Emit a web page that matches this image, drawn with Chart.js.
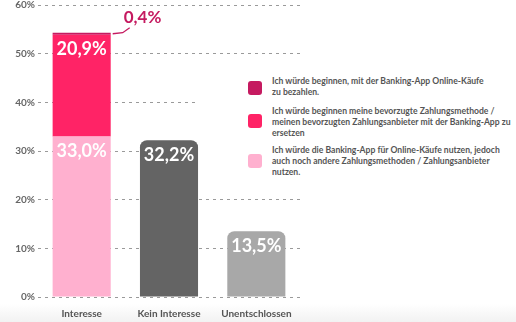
<!DOCTYPE html>
<html><head><meta charset="utf-8">
<script src="https://cdn.jsdelivr.net/npm/chart.js@4.4.1/dist/chart.umd.min.js"></script>
<style>
html,body{margin:0;padding:0;background:#fff;}
#wrap{position:relative;width:516px;height:322px;overflow:hidden;font-family:Lato,"Open Sans",sans-serif;}
#band{position:absolute;left:0;right:0;bottom:0;height:18px;background:linear-gradient(to bottom,#ffffff,#f2f2f2);}
canvas{position:absolute;left:0;top:0;}
#legend{position:absolute;left:199px;top:64px;width:317px;height:126px;background:#fff;}
.item{position:absolute;left:73px;font-size:8.6px;line-height:11px;font-weight:700;color:#555;white-space:nowrap;}
.sw{position:absolute;left:49px;width:14px;height:14px;border-radius:3px;}
</style></head>
<body>
<div id="wrap">
<div id="band"></div>
<canvas id="c" width="516" height="322"></canvas>
<div id="legend"></div>
</div>
<script>
const categories = ["Interesse", "Kein Interesse", "Unentschlossen"];
const tickValues = [0, 10, 20, 30, 40, 50, 60];
const seriesNames = [
  "Ich würde die Banking-App für Online-Käufe nutzen, jedoch\nauch noch andere Zahlungsmethoden / Zahlungsanbieter\nnutzen.",
  "Ich würde beginnen meine bevorzugte Zahlungsmethode /\nmeinen bevorzugten Zahlungsanbieter mit der Banking-App zu\nersetzen",
  "Ich würde beginnen, mit der Banking-App Online-Käufe\nzu bezahlen."
];
const interesseAndere = [33.0, null, null];
const interesseErsetzen = [20.9, null, null];
const interesseBezahlen = [0.4, null, null];
const keinUndUnentschlossen = [null, 32.2, 13.5];
const labelText = ["33,0%", "20,9%", "0,4%", "32,2%", "13,5%"];

const cLight = "#ffb0cf", cHot = "#ff2366", cDark = "#c51a60";
const cGrey1 = "#646464", cGrey2 = "#a8a8a8";

// legend
const legendEl = document.getElementById("legend");
const legendItems = [
  {name: seriesNames[2], color: cDark, top: 11.5, sw: 16.5},
  {name: seriesNames[1], color: cHot, top: 42, sw: 50},
  {name: seriesNames[0], color: cLight, top: 80.5, sw: 90}
];
legendItems.forEach(it => {
  const s = document.createElement("div");
  s.className = "sw"; s.style.top = it.sw + "px"; s.style.background = it.color;
  legendEl.appendChild(s);
  const t = document.createElement("div");
  t.className = "item"; t.style.top = it.top + "px";
  t.innerHTML = it.name.split("\n").join("<br>");
  legendEl.appendChild(t);
});

const labelsPlugin = {
  id: "valueLabels",
  afterDatasetsDraw(chart) {
    const ctx = chart.ctx;
    ctx.save();
    ctx.textAlign = "center";
    ctx.textBaseline = "middle";
    ctx.font = "700 18px Lato, 'Open Sans', sans-serif";
    ctx.fillStyle = "#ffffff";
    const m0 = chart.getDatasetMeta(0).data[0];
    const m1 = chart.getDatasetMeta(1).data[0];
    const m2 = chart.getDatasetMeta(2).data[0];
    const m3 = chart.getDatasetMeta(3).data;
    ctx.fillText(labelText[0], m0.x, m0.y + 15);
    ctx.fillText(labelText[1], m1.x, m1.y + 15);
    ctx.fillText(labelText[3], m3[1].x, m3[1].y + 15);
    ctx.fillText(labelText[4], m3[2].x, m3[2].y + 15);
    // 0,4% callout
    const right = m2.x + m2.width / 2;
    const topY = m2.y;
    ctx.strokeStyle = cDark;
    ctx.lineWidth = 1.3;
    ctx.beginPath();
    ctx.moveTo(right + 2, topY + 1);
    ctx.lineTo(right + 12, topY + 0);
    ctx.lineTo(right + 19, topY - 5);
    ctx.stroke();
    ctx.fillStyle = cDark;
    ctx.textAlign = "left";
    ctx.font = "700 17px Lato, 'Open Sans', sans-serif";
    ctx.fillText(labelText[2], right + 13, topY - 15);
    ctx.restore();
  }
};

new Chart(document.getElementById("c"), {
  type: "bar",
  data: {
    labels: categories,
    datasets: [
      {label: "a", data: interesseAndere, backgroundColor: cLight},
      {label: "b", data: interesseErsetzen, backgroundColor: cHot},
      {label: "c", data: interesseBezahlen, backgroundColor: cDark},
      {label: "d", data: keinUndUnentschlossen, backgroundColor: [cGrey1, cGrey1, cGrey2],
       borderRadius: {topLeft: 7, topRight: 7, bottomLeft: 0, bottomRight: 0}, borderSkipped: false}
    ]
  },
  options: {
    responsive: false,
    animation: false,
    devicePixelRatio: 1,
    layout: {padding: {left: 0, right: 216, top: 5, bottom: 2}},
    datasets: {bar: {barPercentage: 0.665, categoryPercentage: 1}},
    plugins: {legend: {display: false}, tooltip: {enabled: false}},
    scales: {
      x: {
        stacked: true,
        afterFit(scale) { scale.height = 23; scale.paddingLeft = 0; scale.paddingRight = 0; },
        grid: {display: false, drawTicks: false, tickLength: 0},
        border: {display: false},
        ticks: {color: "#555", padding: 11, maxRotation: 0, font: {family: "Lato", size: 10, weight: "700"}}
      },
      y: {
        stacked: true,
        min: 0, max: 60,
        afterBuildTicks(scale) { scale.ticks = tickValues.map(v => ({value: v})); },
        afterFit(scale) { scale.width = 38; scale.paddingTop = 0; scale.paddingBottom = 0; },
        grid: {color: "#9a9a9a", lineWidth: 1, drawTicks: false, tickLength: 0, borderDash: [3, 4]},
        border: {display: false, dash: [3, 4]},
        ticks: {color: "#666", padding: 3, font: {family: "Lato", size: 10, weight: "700"},
                callback: v => v + "%"}
      }
    }
  },
  plugins: [labelsPlugin]
});
</script>
</body></html>
